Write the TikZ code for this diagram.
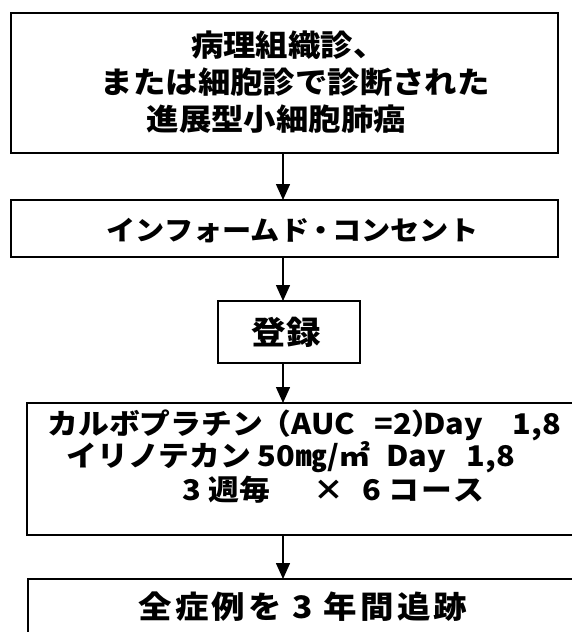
\documentclass[tikz,border=0pt]{standalone}
\usepackage{fontspec}
\setmainfont{Noto Sans CJK JP}[FakeStretch=1.08]
\usetikzlibrary{arrows.meta}
\newcommand\seg[2]{\makebox[0pt][l]{\hspace*{#1pt}#2}}
\begin{document}
\begin{tikzpicture}[x=1pt,y=-1pt,
  box/.style={draw=black,line width=2pt,inner sep=0pt,outer sep=0pt,anchor=north west},
  txt/.style={inner sep=0pt,outer sep=0pt,font=\bfseries,align=center},
  arr/.style={line width=1.5pt,-{Triangle[width=14pt,length=16pt]}}]
\useasboundingbox (0,0) rectangle (572,632);
\clip (0,0) rectangle (572,632);
\coordinate (col) at (283,0);
% boxes
\node[box,minimum width=547.3pt,minimum height=140pt] (b1) at (10.7,13) {};
\node[box,minimum width=547.3pt,minimum height=57pt] (b2) at (10.7,200) {};
\node[box,minimum width=142pt,minimum height=62pt] (b3) at (218,301) {};
\node[box,minimum width=600pt,minimum height=132pt] (b4) at (26.7,403) {};
\node[box,minimum width=600pt,minimum height=100pt] (b5) at (28,579) {};
% texts
\node[txt,font=\bfseries\fontsize{30}{37}\selectfont] (t1) at (284.3,82) {\hspace*{8pt}病理組織診、\\\hspace*{22pt}または細胞診で診断された\\進展型小細胞肺癌\hspace*{16pt}};
\node[txt,font=\bfseries\fontsize{27}{32}\selectfont] (t2) at (292.5,231) {インフォームド\hspace{-3pt}・\hspace{-3pt}コンセント};
\node[txt,font=\bfseries\fontsize{32}{36}\selectfont] (t3) at (286,332) {登録};
\node[txt,font=\bfseries\fontsize{28.5}{32}\selectfont,anchor=west] (t4a) at (0,425)
  {\seg{47}{カルボプラチン}\seg{260}{（AUC}\seg{374}{=2）}\seg{423}{Day}\seg{512}{1,8}};
\node[txt,font=\bfseries\fontsize{28.5}{32}\selectfont,anchor=west] (t4b) at (0,457.5)
  {\seg{66}{イリノテカン}\seg{257}{50}\seg{296}{㎎/㎡}\seg{386}{Day}\seg{466}{1,8}};
\node[txt,font=\bfseries\fontsize{28.5}{32}\selectfont,anchor=west] (t4c) at (0,489.5)
  {\seg{182}{3}\seg{208}{週毎}\seg{313}{×}\seg{362}{6}\seg{388}{\addfontfeatures{LetterSpace=8}コース}};
\node[txt,font=\bfseries\fontsize{31}{36}\selectfont\addfontfeatures{LetterSpace=10}] (t5) at (303,607) {全症例を 3 年間追跡};
% arrows
\draw[arr] (b1.south -| col) -- (b2.north -| col);
\draw[arr] (b2.south -| col) -- (b3.north -| col);
\draw[arr] (b3.south -| col) -- (b4.north -| col);
\draw[arr] (b4.south -| col) -- (b5.north -| col);
\end{tikzpicture}
\end{document}
